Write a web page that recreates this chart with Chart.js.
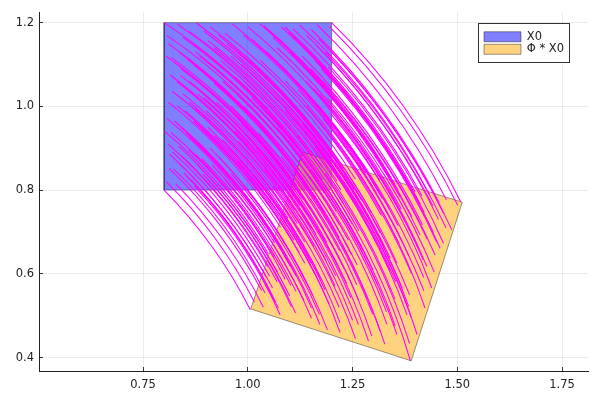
<!DOCTYPE html>
<html><head><meta charset="utf-8">
<style>html,body{margin:0;padding:0;background:#fff}canvas{display:block}</style>
<script src="https://cdn.jsdelivr.net/npm/chart.js@4/dist/chart.umd.min.js"></script>
</head><body><canvas id="c" width="600" height="400"></canvas>
<script>
const seriesNames = ['X0', 'Φ * X0'];
const xTickValues = [0.75, 1.00, 1.25, 1.50, 1.75];
const yTickValues = [0.4, 0.6, 0.8, 1.0, 1.2];
const boxX0 = [[0.8,0.8],[1.2,0.8],[1.2,1.2],[0.8,1.2],[0.8,0.8]];
const boxPhi = [[1.007,0.516],[1.39,0.392],[1.512,0.771],[1.131,0.891],[1.007,0.516]];
const arcStarts = [[.8,1.2],[.8,.8],[1.2,.8],[1.2,1.2],[.831,1.197],[.86,1.179],[.877,1.199],[.963,1.197],[.945,1.175],[.807,1.169],
[.836,1.129],[.817,1.117],[.825,1.105],[.855,1.113],[.815,1.075],[.839,1.074],[.925,1.087],[.82,1.036],[.832,1.001],[.801,.941],
[.817,.937],[.853,.936],[.82,.891],[.813,.886],[.812,.852],[.841,.883],[.861,.927],[.905,1.157],[1.029,1.197],[1.038,1.193],
[1.089,1.189],[1.124,1.194],[1.152,1.183],[1.108,1.185],[1.097,1.177],[1.124,1.149],[.973,1.03],[.909,1.038],[.937,.967],
[.823,.85],[.864,.825],[.893,.838],[.859,.896],[.939,.85],[.969,.818],[.977,.917],[1.014,.837],[1.021,.815],[1.025,.936],
[1.057,.846],[1.096,.83],[1.092,.815],[1.111,.847],[1.121,.867],[1.141,.87],[1.197,.866],[1.16,.904],[1.197,.933],[1.197,.984],
[1.158,1.042],[1.171,1.029],[1.132,1.096],[1.188,1.081],[1.192,1.094],[1.198,1.132],[1.163,1.146],[1.1,1.014],[1.158,.925],[.847,.841],
[.87,1.15],[.885,1.12],[.895,1.18],[.92,1.14],[.935,1.11],[.95,1.15],[.975,1.13],[.99,1.17],[1.005,1.11],[1.02,1.15],
[1.045,1.13],[1.06,1.165],[1.075,1.1],[1.1,1.13],[1.13,1.12],[1.15,1.09],[1.17,1.16],[1.185,1.13],[.86,1.06],[.88,1.03],
[.9,1.075],[.94,1.06],[.96,1],[.99,1.06],[1.01,1.02],[1.04,1.07],[1.06,1.04],[1.09,1.06],[1.12,1.04],[1.14,1],
[.85,.99],[.87,.965],[.9,.99],[.92,.93],[.955,.9],[.985,.96],[1.01,.98],[1.04,.9],[1.07,.95],[1.09,.99],
[1.12,.93],[.88,.86],[.91,.9],[.945,.825],[1,.87],[1.18,1.06],[1.195,1.19],[1.165,1.195],
[.805,.82],[.828,.815],[.835,.865],[.852,.835],[.872,.81],[.875,.885],[.89,.875],[.905,.825],[.915,.86],[.93,.88],
[.96,.84],[.975,.87],[.99,.81],[.81,.91],[.835,.905],[.88,.91],[.89,.945],[.905,.95],[.94,.92],[.97,.94],
[.808,.97],[.825,.965],[.84,.95],[.86,1.01],[.875,.995],[.81,1.01],[.845,1.03],[.895,1.02],[.925,1.01],[.95,1.03],
[.92,1.055],[.97,1.07],[.83,1.06],[.805,1.12],[.81,1.15],[.845,1.165],[.84,1.09],[.87,1.1],[.875,1.13],[.9,1.11],
[.91,1.19],[.93,1.17],[.96,1.12],[.985,1.1],[1,1.19],[1.01,1.16],[1.03,1.11],[1.05,1.18],[1.07,1.14],[1.08,1.19],
[1.11,1.165],[1.14,1.17],[1.14,1.06],[1.16,1.11],[1.175,1.09],[1.19,1.02],[1.18,.97],[1.17,.9],[1.185,.84],[1.15,.85],
[1.13,.82],[1.11,.895],[1.08,.88],[1.06,.81],[1.04,.85],[1.02,.9],[1,.93],[1.05,.98],[1.03,1],[1.08,1.02],
[1.11,.97],[1.13,.96],[1.15,.95],[1.17,1],[.99,1],[.965,.965]];
const arcMids = [[.975,1.063],[.913,.667],[1.309,.605],[1.371,1.001],[1.005,1.055],[1.032,1.033],[1.051,1.05],[1.135,1.035],[1.115,1.015],[.977,1.031],
[1,.986],[.979,.978],[.985,.965],[1.016,.968],[.971,.936],[.994,.932],[1.081,.932],[.97,.898],[.976,.861],[.936,.807],
[.951,.8],[.987,.794],[.947,.754],[.939,.75],[.933,.717],[.967,.742],[.994,.783],[1.072,1.004],[1.201,1.025],[1.21,1.019],
[1.259,1.007],[1.295,1.007],[1.32,.992],[1.277,1],[1.265,.994],[1.288,.962],[1.12,.868],[1.058,.886],[1.075,.811],
[.944,.713],[.981,.682],[1.011,.69],[.987,.753],[1.059,.695],[1.083,.659],[1.106,.756],[1.131,.671],[1.135,.648],[1.157,.767],
[1.174,.673],[1.211,.651],[1.205,.637],[1.228,.666],[1.242,.684],[1.261,.684],[1.316,.672],[1.285,.714],[1.327,.738],[1.335,.788],
[1.304,.851],[1.315,.837],[1.287,.909],[1.34,.885],[1.346,.897],[1.358,.934],[1.325,.953],[1.243,.833],[1.286,.736],[.967,.701],
[1.037,1.002],[1.046,.971],[1.066,1.028],[1.085,.984],[1.095,.953],[1.116,.99],[1.137,.966],[1.158,1.004],[1.164,.942],[1.185,.979],
[1.206,.955],[1.226,.988],[1.231,.921],[1.261,.947],[1.288,.933],[1.304,.9],[1.335,.966],[1.345,.934],[1.013,.915],[1.028,.882],
[1.055,.923],[1.092,.902],[1.102,.84],[1.141,.895],[1.155,.852],[1.193,.897],[1.207,.865],[1.24,.879],[1.267,.856],[1.28,.812],
[.992,.847],[1.009,.819],[1.041,.839],[1.052,.777],[1.083,.742],[1.121,.796],[1.149,.812],[1.167,.729],[1.203,.774],[1.229,.81],
[1.25,.747],[1.001,.714],[1.038,.749],[1.061,.669],[1.122,.706],[1.329,.865],[1.364,.992],[1.335,1.002],
[.921,.686],[.944,.677],[.958,.726],[.971,.694],[.987,.666],[1.001,.739],[1.014,.728],[1.021,.676],[1.036,.709],[1.055,.726],
[1.077,.682],[1.097,.71],[1.103,.648],[.94,.774],[.964,.765],[1.009,.763],[1.025,.797],[1.04,.8],[1.071,.764],[1.103,.78],
[.947,.834],[.964,.826],[.976,.81],[1.006,.866],[1.018,.848],[.956,.873],[.994,.888],[1.041,.87],[1.07,.856],[1.098,.872],
[1.071,.9],[1.123,.908],[.983,.919],[.967,.983],[.977,1.011],[1.014,1.021],[.998,.948],[1.029,.953],[1.039,.981],[1.06,.958],
[1.082,1.036],[1.099,1.013],[1.12,.959],[1.142,.935],[1.171,1.022],[1.177,.99],[1.189,.938],[1.219,1.004],[1.233,.961],[1.25,1.01],
[1.276,.98],[1.306,.98],[1.289,.871],[1.317,.918],[1.329,.896],[1.333,.825],[1.315,.776],[1.295,.709],[1.3,.648],[1.267,.663],
[1.242,.636],[1.235,.713],[1.203,.703],[1.172,.637],[1.159,.68],[1.147,.732],[1.131,.765],[1.188,.806],[1.172,.829],[1.224,.842],
[1.246,.787],[1.264,.774],[1.282,.762],[1.31,.808],[1.132,.836],[1.102,.804]];
const arcEnds = [[1.126,.894],[1.006,.514],[1.388,.392],[1.508,.772],[1.154,.882],[1.177,.856],[1.199,.87],[1.281,.841],[1.257,.826],[1.123,.863],
[1.139,.816],[1.117,.81],[1.122,.797],[1.152,.795],[1.103,.771],[1.125,.762],[1.211,.749],[1.096,.732],[1.096,.696],[1.049,.648],
[1.063,.639],[1.097,.627],[1.052,.594],[1.044,.592],[1.033,.56],[1.07,.581],[1.102,.617],[1.213,.821],[1.344,.821],[1.351,.814],
[1.399,.796],[1.434,.789],[1.457,.77],[1.416,.786],[1.403,.781],[1.421,.747],[1.24,.68],[1.181,.707],[1.187,.631],
[1.041,.554],[1.073,.518],[1.104,.521],[1.089,.587],[1.152,.518],[1.172,.479],[1.208,.571],[1.22,.483],[1.22,.46],[1.26,.574],
[1.264,.479],[1.296,.451],[1.288,.439],[1.316,.463],[1.332,.479],[1.352,.475],[1.404,.455],[1.38,.502],[1.423,.518],[1.439,.566],
[1.419,.633],[1.427,.618],[1.411,.693],[1.459,.661],[1.467,.673],[1.487,.705],[1.455,.73],[1.356,.625],[1.384,.522],[1.061,.538],
[1.178,.826],[1.183,.792],[1.211,.846],[1.222,.801],[1.228,.768],[1.254,.801],[1.272,.775],[1.298,.808],[1.295,.746],[1.321,.78],
[1.339,.753],[1.364,.782],[1.359,.715],[1.392,.736],[1.417,.717],[1.428,.683],[1.468,.743],[1.473,.71],[1.141,.743],[1.151,.709],
[1.184,.745],[1.218,.718],[1.219,.655],[1.265,.703],[1.273,.659],[1.316,.698],[1.326,.663],[1.361,.672],[1.384,.644],[1.391,.6],
[1.11,.68],[1.123,.65],[1.158,.665],[1.159,.602],[1.184,.562],[1.231,.61],[1.261,.621],[1.265,.536],[1.309,.575],[1.34,.606],
[1.351,.54],[1.1,.547],[1.141,.576],[1.152,.494],[1.218,.52],[1.447,.645],[1.501,.764],[1.474,.777],
[1.016,.532],[1.037,.52],[1.059,.566],[1.066,.531],[1.077,.502],[1.103,.572],[1.115,.558],[1.114,.506],[1.134,.536],[1.154,.55],
[1.171,.503],[1.194,.528],[1.19,.466],[1.048,.616],[1.071,.604],[1.115,.595],[1.136,.625],[1.151,.625],[1.176,.585],[1.21,.595],
[1.064,.674],[1.08,.664],[1.089,.645],[1.126,.696],[1.136,.676],[1.078,.711],[1.118,.72],[1.163,.694],[1.188,.676],[1.218,.687],
[1.197,.72],[1.249,.719],[1.112,.752],[1.106,.817],[1.12,.844],[1.159,.848],[1.131,.778],[1.163,.778],[1.176,.805],[1.194,.779],
[1.228,.852],[1.241,.826],[1.255,.769],[1.273,.743],[1.314,.824],[1.315,.792],[1.319,.739],[1.359,.799],[1.366,.755],[1.391,.799],
[1.412,.766],[1.442,.762],[1.409,.657],[1.443,.699],[1.451,.675],[1.445,.604],[1.42,.56],[1.39,.496],[1.386,.434],[1.356,.455],
[1.327,.432],[1.331,.509],[1.298,.504],[1.257,.445],[1.25,.489],[1.246,.542],[1.236,.577],[1.299,.609],[1.286,.634],[1.34,.637],
[1.353,.581],[1.369,.565],[1.386,.55],[1.42,.591],[1.247,.646],[1.214,.621]];

const toPts = a => a.map(p => ({x: p[0], y: p[1]}));
const boxStyle = (pts, fill, name, order) => ({
  label: name, data: toPts(pts), showLine: true, pointRadius: 0, tension: 0,
  fill: 'shape', backgroundColor: fill, borderColor: 'rgba(0,0,0,0.4)', borderWidth: 1, order
});
const datasets = [
  boxStyle(boxX0, 'rgba(0,0,255,0.5)', seriesNames[0], 3),
  boxStyle(boxPhi, 'rgba(255,165,0,0.5)', seriesNames[1], 2)
];
arcStarts.forEach((s, i) => datasets.push({
  label: 'trajectory', data: toPts([s, arcMids[i], arcEnds[i]]), showLine: true, fill: false,
  pointRadius: 0, tension: 0.33, borderColor: '#ff00ff', borderWidth: 1.05, order: 1
}));

const arcShape = {
  id: 'arcShape',
  beforeDatasetDraw(chart, args) {
    if (args.index < 2) return;
    args.meta.dataset.updateControlPoints(chart.chartArea, 'x');
    const [a, b, c] = args.meta.data;
    const tx = (c.x - a.x) / 6, ty = (c.y - a.y) / 6;
    b.cp1x = b.x - tx; b.cp1y = b.y - ty; b.cp2x = b.x + tx; b.cp2y = b.y + ty;
    const dx = b.x - a.x, dy = b.y - a.y, k1 = 2 * (tx * dx + ty * dy) / (dx * dx + dy * dy);
    a.cp2x = a.x + k1 * dx - tx; a.cp2y = a.y + k1 * dy - ty;
    const ex = c.x - b.x, ey = c.y - b.y, k2 = 2 * (tx * ex + ty * ey) / (ex * ex + ey * ey);
    c.cp1x = c.x - (k2 * ex - tx); c.cp1y = c.y - (k2 * ey - ty);
  }
};

const legendFrame = {
  id: 'legendFrame',
  afterLayout(chart) {
    const l = chart.legend;
    l.left = 483; l.top = 30; l.right = 570; l.bottom = 90; l.width = 87; l.height = 60;
    if (!l._framed) {
      const orig = l.draw.bind(l);
      l.draw = function () {
        const c = chart.ctx;
        c.save();
        c.fillStyle = '#fff'; c.strokeStyle = '#333'; c.lineWidth = 1;
        c.fillRect(478.5, 23.5, 91, 39); c.strokeRect(478.5, 23.5, 91, 39);
        c.restore();
        orig();
      };
      l._framed = true;
    }
  }
};

new Chart(document.getElementById('c'), {
  type: 'scatter',
  data: { datasets },
  plugins: [legendFrame, arcShape],
  options: {
    responsive: false, animation: false, devicePixelRatio: 1,
    layout: { padding: { top: 12, right: 12, left: 0, bottom: 0 } },
    plugins: {
      tooltip: { enabled: false },
      legend: {
        position: 'chartArea', align: 'start',
        labels: {
          boxWidth: 37, boxHeight: 10, padding: 1, color: '#222',
          font: { family: 'DejaVu Sans', size: 11.5 },
          filter: it => it.datasetIndex < 2,
          sort: (a, b) => a.datasetIndex - b.datasetIndex
        }
      }
    },
    scales: {
      x: {
        type: 'linear', min: 0.5015, max: 1.812,
        afterBuildTicks: s => { s.ticks = xTickValues.map(v => ({ value: v })); },
        afterFit: s => { s.height = 29; },
        grid: { color: 'rgba(0,0,0,0.08)', lineWidth: 1, tickLength: -4, tickColor: '#333' },
        border: { color: '#222', width: 1 },
        ticks: { color: '#222', padding: 11, maxRotation: 0, autoSkip: false,
          font: { family: 'DejaVu Sans', size: 11.5 }, callback: v => v.toFixed(2) }
      },
      y: {
        type: 'linear', min: 0.3678, max: 1.2254,
        afterBuildTicks: s => { s.ticks = yTickValues.map(v => ({ value: v })); },
        afterFit: s => { s.width = 39; s.paddingTop = 0; s.paddingBottom = 0; },
        grid: { color: 'rgba(0,0,0,0.08)', lineWidth: 1, tickLength: -4, tickColor: '#333' },
        border: { color: '#222', width: 1 },
        ticks: { color: '#222', padding: 9, autoSkip: false,
          font: { family: 'DejaVu Sans', size: 11.5 }, callback: v => v.toFixed(1) }
      }
    }
  }
});
</script></body></html>
